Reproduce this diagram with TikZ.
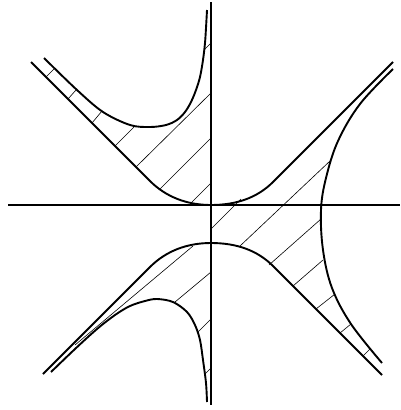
\documentclass[tikz,border=0pt]{standalone}
\begin{document}
\begin{tikzpicture}[x=1pt,y=-1pt,
  curve/.style={line width=1.9pt,line join=round},
  axisline/.style={line width=1.9pt},
  hatch/.style={line width=0.6pt}]
\useasboundingbox (0,0) rectangle (400,410);
% hatching
\foreach \a/\b in {
  {(46,77)}/{(54,69)},
  {(68,99)}/{(76,90)},
  {(92,123)}/{(102,111)},
  {(115,146)}/{(134,127)},
  {(136,167)}/{(211,93)},
  {(159,190)}/{(211,138)},
  {(191,203)}/{(211,183)},
  {(204,50)}/{(211,43)},
  {(211,229)}/{(241,199)},
  {(240,246)}/{(330,161)},
  {(269,265)}/{(321,219)},
  {(293,286)}/{(323,260)},
  {(316,309)}/{(335,294)},
  {(340,333)}/{(351,324)},
  {(363,356)}/{(370,349)},
  {(193,246)}/{(75,345)},
  {(175,302)}/{(211,272)},
  {(198,332)}/{(211,319)},
  {(205,374)}/{(211,368)}}
  {\draw[hatch] \a -- \b;}
% axes
\draw[axisline] (8,205) -- (400,205);
\draw[axisline] (211,2) -- (211,405);
% curve B
\draw[curve] (31,62) -- (150,181) .. controls (166,197) and (187,205) .. (211,205)
  .. controls (236,205) and (257,198) .. (273,182) -- (393,62);
% curve C
\draw[curve] (43,374) -- (150,267) .. controls (166,251) and (187,243) .. (211,243)
  .. controls (236,243) and (257,250) .. (273,266) -- (382,375);
% curve A
\draw[curve] plot[smooth,tension=0.55] coordinates {(44,58) (77,90) (103,112) (130,125) (150,127) (166,125) (177,120) (185,112) (191,102) (196,90) (200,77) (203,60) (205,43) (206,28) (207,10)};
% curve D
\draw[curve] plot[smooth,tension=0.55] coordinates {(51,372) (75,349) (97,329) (115,315) (130,306) (145,301) (157,299) (173,302) (187,312) (195,325) (200,340) (203,360) (206,383) (207,402)};
% curve E
\draw[curve] plot[smooth,tension=0.6] coordinates {(393,69) (360,104) (338,141) (326,178) (321,210) (323,250) (332,288) (351,324) (382,363)};
\end{tikzpicture}
\end{document}
